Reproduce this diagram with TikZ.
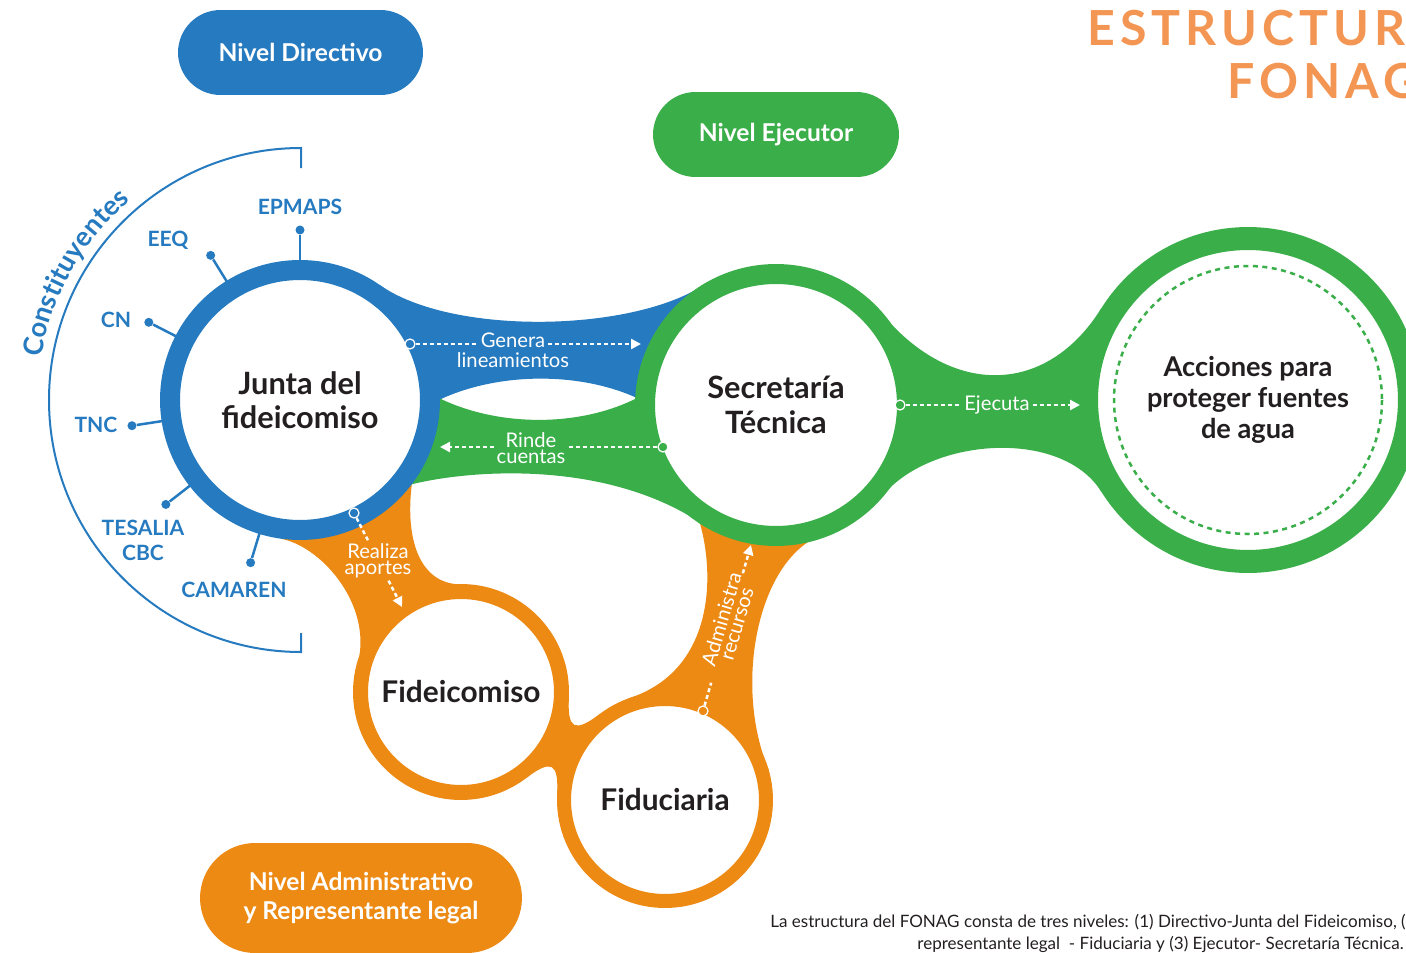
\documentclass[tikz,border=0pt]{standalone}
\usepackage{fontspec}
\setmainfont{Lato}
\newfontfamily\titlefont[LetterSpace=10.5]{Lato}
\usetikzlibrary{calc,arrows.meta,decorations.text}
\definecolor{cblue}{HTML}{267ABF}
\definecolor{cgreen}{HTML}{3AAE49}
\definecolor{corange}{HTML}{EC8A14}
\definecolor{ctitle}{HTML}{F39654}
\definecolor{ctext}{HTML}{231F20}
\begin{document}
\begin{tikzpicture}[x=0.02cm, y=-0.02cm,
  ring/.style={circle, fill=white, inner sep=0pt, outer sep=0pt, align=center, text=ctext, font=\bfseries\fontsize{17.5}{19.5}\selectfont},
  pill/.style={inner sep=0pt, text=white, align=center, font=\bfseries\fontsize{14}{16.5}\selectfont},
  dotmk/.style={circle, inner sep=0pt, minimum size=0.2cm, draw=white, line width=0.025cm},
  flow/.style={white, line width=0.05cm, dash pattern=on 0.08cm off 0.06cm},
  flowarr/.style={flow, -{Triangle[length=0.2cm, width=0.2cm]}},
  lbl/.style={text=white, inner sep=1.5pt, align=center, font=\fontsize{11.5}{12}\selectfont},
  cons/.style={text=cblue, inner sep=0pt, align=center, font=\bfseries\fontsize{12}{14.2}\selectfont},
  spoke/.style={cblue, line width=0.05cm},
  titl/.style={anchor=west, inner sep=0pt, text=ctitle, font=\titlefont\bfseries\fontsize{27.5}{30}\selectfont},
  capt/.style={inner sep=0pt, text=ctext, font=\fontsize{9.7}{11}\selectfont}]
\useasboundingbox (0,0) rectangle (1406,953);
\clip (0,0) rectangle (1406,953);

% centres
\coordinate (J) at (300,400);
\coordinate (S) at (776,405);
\coordinate (A) at (1248,400);
\coordinate (Fd) at (461,692);
\coordinate (Fu) at (665,800);

% ---------- bands ----------
% Junta -> Fideicomiso
\fill[corange] (J) -- ($(J)+(98:140)$) .. controls (320,546) and (368,600) .. ($(Fd)+(200:108)$) -- (Fd) -- (455,584) .. controls (420,580) and (405,540) .. ($(J)+(37:140)$) -- cycle;
% Fideicomiso -> Fiduciaria
\fill[corange] (Fd) -- (568.9,697.5) .. controls (567.3,729.3) and (574.5,733.1) .. (599.9,713.9) -- (Fu) -- (557.1,794.5) .. controls (558.7,762.7) and (551.5,758.9) .. (526.1,778.1) -- cycle;
% Fiduciaria -> Secretaria
\fill[corange] (S) -- ($(S)+(123:140)$) .. controls (716,580) and (712,672) .. ($(Fu)+(250:108)$) -- (Fu) -- ($(Fu)+(-16:108)$) .. controls (735,690) and (755,575) .. ($(S)+(76:140)$) -- cycle;
% Junta -> Secretaria (blue)
\fill[cblue] (J) -- ($(J)+(-55:140)$) .. controls (451.6,335.2) and (628,332.4) .. ($(S)+(238:140)$) -- (S) -- (637,398) .. controls (580,372) and (500,372) .. (441,399) -- cycle;
% Secretaria -> Junta (green)
\fill[cgreen] (J) -- (441,399) .. controls (500,427) and (580,427) .. (637,398) -- (S) -- ($(S)+(125:140)$) .. controls (600,460) and (470,470) .. ($(J)+(37:140)$) -- cycle;
% Secretaria -> Acciones
\fill[cgreen] (S) -- ($(S)+(-40:140)$) .. controls (950.7,395.4) and (1045.6,397.3) .. ($(A)+(212:173)$) -- (A) -- ($(A)+(148:173)$) .. controls (1061.5,428.1) and (931.4,437.6) .. ($(S)+(40:140)$) -- cycle;

% ---------- constituyentes ----------
\draw[cblue, line width=0.04cm] (301,168) -- (301,148) arc[start angle=-90, end angle=-270, radius=252] -- (301,633);
\path[decorate, decoration={text along path, text align=center, text color=cblue,
  text={|\bfseries\fontsize{15.5}{16}\selectfont|Constituyentes}}]
  ($(J)+(177:262)$) arc[start angle=177, end angle=242, radius=262];
\foreach \a/\n in {-90/epm, 238.3/eeq, 207.2/cn, 171.3/tnc, 142.1/tes, 106.9/cam}{
  \node[circle, fill=cblue, inner sep=0pt, minimum size=0.18cm] (d\n) at ($(J)+(\a:170)$) {};
  \draw[spoke] (d\n) -- ($(J)+(\a:135)$);
}
\node[cons] (lepm) at (300,207) {EPMAPS};
\node[cons] (leeq) at (168,240) {EEQ};
\node[cons] (lcn) at (116,320) {CN};
\node[cons] (ltnc) at (96,425) {TNC};
\node[cons] (ltes) at (143,540) {TESALIA\\CBC};
\node[cons] (lcam) at (234,590) {CAMAREN};

% ---------- circles ----------
\node[ring, draw=cblue, line width=0.4cm, minimum size=5.2cm] (jn) at (J) {Junta del\\fideicomiso};
\node[ring, draw=cgreen, line width=0.4cm, minimum size=5.24cm] (sn) at (S) {Secretaría\\Técnica};
\node[ring, draw=cgreen, line width=0.46cm, minimum size=6.46cm, font=\bfseries\fontsize{15.5}{17.6}\selectfont] (an) at (A) {Acciones para\\proteger fuentes\\de agua};
\draw[cgreen, line width=0.05cm, dash pattern=on 0.1cm off 0.09cm] (A) circle[radius=134];
\node[ring, draw=corange, line width=0.3cm, minimum size=4.02cm, font=\bfseries\fontsize{17}{19}\selectfont] (fdn) at (Fd) {Fideicomiso};
\node[ring, draw=corange, line width=0.28cm, minimum size=4.04cm, font=\bfseries\fontsize{17}{19}\selectfont] (fun) at (Fu) {Fiduciaria};

% ---------- flows ----------
% Genera lineamientos
\node[dotmk, fill=cblue] (m1) at (410,344) {};
\node[lbl] (t1a) at (513,340) {Genera};
\node[lbl] (t1b) at (513,360) {lineamientos};
\coordinate (e1) at (641,344);
\draw[flow] (m1) -- (m1 -| t1a.west);
\draw[flowarr] (m1 -| t1a.east) -- (e1);
% Rinde cuentas
\node[dotmk, fill=cgreen] (m2) at (663,447) {};
\node[lbl, font=\fontsize{11.5}{9.5}\selectfont] (t2) at (531,448) {Rinde\\cuentas};
\coordinate (e2) at (440,447);
\draw[flow] (m2) -- (m2 -| t2.east);
\draw[flowarr] (m2 -| t2.west) -- (e2);
% Ejecuta
\node[dotmk, fill=cgreen] (m3) at (900,405) {};
\node[lbl] (t3) at (997,405) {Ejecuta};
\coordinate (e3) at (1080,405);
\draw[flow] (m3) -- (t3.west);
\draw[flowarr] (t3.east) -- (e3);
% Realiza aportes
\node[dotmk, fill=cblue] (m4) at (354,513) {};
\coordinate (e4) at (402,607);
\node[lbl, font=\fontsize{11.5}{9}\selectfont] (t4) at (378,561) {Realiza\\aportes};
\draw[flow] (m4) -- ($(m4)!0.29!(e4)$);
\draw[flowarr] ($(m4)!0.72!(e4)$) -- (e4);
% Administra recursos
\node[dotmk, fill=corange] (m5) at (703,711) {};
\coordinate (e5) at (751,545);
\node[lbl, rotate=73.5, font=\fontsize{11.5}{9}\selectfont] (t5) at ($(m5)!0.54!(e5)$) {Administra\\recursos};
\draw[flow] (m5) -- ($(m5)!0.17!(e5)$);
\draw[flowarr] ($(m5)!0.83!(e5)$) -- (e5);

% ---------- level pills ----------
\node[pill, fill=cblue, minimum width=4.9cm, minimum height=1.7cm, rounded corners=0.85cm] (nd) at (300.5,52.5) {Nivel Directivo};
\node[pill, fill=cgreen, minimum width=4.92cm, minimum height=1.7cm, rounded corners=0.85cm] (ne) at (776,134.5) {Nivel Ejecutor};
\node[pill, fill=corange, minimum width=6.44cm, minimum height=2.2cm, rounded corners=1.1cm] (na) at (361,898) {Nivel Administrativo\\y Representante legal};

% ---------- title ----------
\node[titl] (ti1) at (1087,28) {ESTRUCTURA};
\node[titl] (ti2) at (1227,81) {FONAG};

% ---------- caption ----------
\node[capt, anchor=west] (cap1) at (770,922) {La estructura del FONAG consta de tres niveles: (1) Directivo-Junta del Fideicomiso, (};
\node[capt, anchor=east] (cap2) at (1404,944) {representante legal\ \ - Fiduciaria y (3) Ejecutor- Secretaría Técnica.};
\end{tikzpicture}
\end{document}
